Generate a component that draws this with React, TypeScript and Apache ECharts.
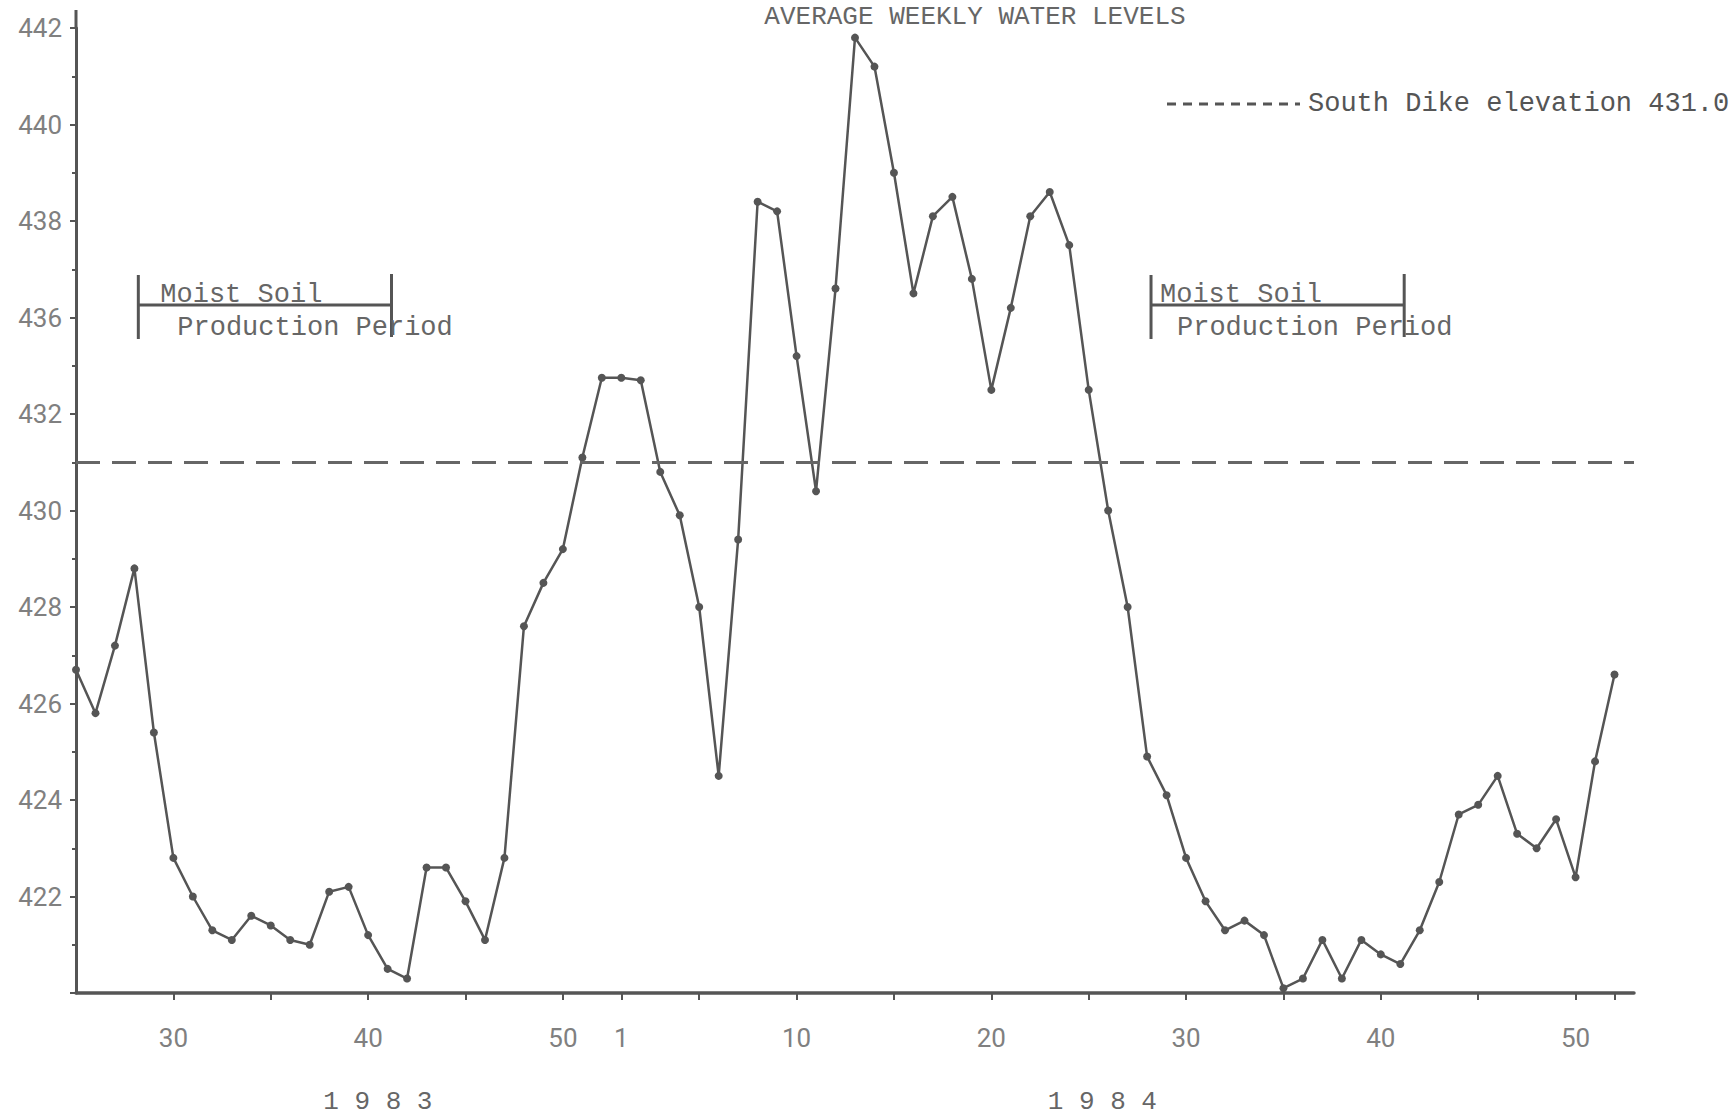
import { useEffect, useRef } from "react";
import * as echarts from "echarts";

// ---- data ----
const weeks1983 = [25, 26, 27, 28, 29, 30, 31, 32, 33, 34, 35, 36, 37, 38, 39, 40, 41, 42, 43, 44, 45, 46, 47, 48, 49, 50, 51, 52];
const weeks1984 = [1, 2, 3, 4, 5, 6, 7, 8, 9, 10, 11, 12, 13, 14, 15, 16, 17, 18, 19, 20, 21, 22, 23, 24, 25, 26, 27, 28, 29, 30, 31, 32, 33, 34, 35, 36, 37, 38, 39, 40, 41, 42, 43, 44, 45, 46, 47, 48, 49, 50, 51, 52];
const levels1983 = [426.7, 425.8, 427.2, 428.8, 425.4, 422.8, 422.0, 421.3, 421.1, 421.6, 421.4, 421.1, 421.0, 422.1, 422.2, 421.2, 420.5, 420.3, 422.6, 422.6, 421.9, 421.1, 422.8, 427.6, 428.5, 429.2, 431.1, 433.5];
const levels1984 = [433.5, 433.4, 430.8, 429.9, 428.0, 424.5, 429.4, 438.4, 438.2, 434.4, 430.4, 436.6, 441.8, 441.2, 439.0, 436.5, 438.1, 438.5, 436.8, 433.0, 436.2, 438.1, 438.6, 437.5, 433.0, 430.0, 428.0, 424.9, 424.1, 422.8, 421.9, 421.3, 421.5, 421.2, 420.1, 420.3, 421.1, 420.3, 421.1, 420.8, 420.6, 421.3, 422.3, 423.7, 423.9, 424.5, 423.3, 423.0, 423.6, 422.4, 424.8, 426.6];
// tick labels as printed on the original (evenly spaced ticks; "434" is skipped)
const yTickLabels = ["", "422", "424", "426", "428", "430", "432", "436", "438", "440", "442"];
const xTickWeeks1983 = [30, 35, 40, 45, 50];
const xTickWeeks1984 = [1, 5, 10, 15, 20, 25, 30, 35, 40, 45, 50, 52];
const xLabelWeeks1983 = [30, 40, 50];
const xLabelWeeks1984 = [1, 10, 20, 30, 40, 50];
const dikeElevation = 431.0;
const moistSoilPeriods = [
  { year: 1983, start: 28.2, end: 41.2 },
  { year: 1984, start: 28.2, end: 41.2 },
];
const yearLabels = [
  { year: 1983, week: 40.5, text: "1 9 8 3" },
  { year: 1984, week: 25.7, text: "1 9 8 4" },
];
const titleText = "AVERAGE WEEKLY WATER LEVELS";
const legendText = "South Dike elevation 431.0";

// ---- layout of the typed annotations (pixels) ----
const periodTextOffsets = [
  { moist: 22, production: 39 },
  { moist: 9, production: 26 },
];

// ---- derived ----
const categories = [
  ...weeks1983.map((w) => `1983-${w}`),
  ...weeks1984.map((w) => `1984-${w}`),
  "1985-1",
];
const tickSet = new Set([
  ...xTickWeeks1983.map((w) => `1983-${w}`),
  ...xTickWeeks1984.map((w) => `1984-${w}`),
]);
const labelSet = new Set([
  ...xLabelWeeks1983.map((w) => `1983-${w}`),
  ...xLabelWeeks1984.map((w) => `1984-${w}`),
]);
// the printed axis is evenly ticked but its labels jump from 432 to 436
const toAxis = (v: number) => (v <= 432 ? v : v <= 436 ? 432 + (v - 432) / 2 : v - 2);
const seriesData = [...levels1983, ...levels1984].map(toAxis);

const INK = "#555";
const LABEL = "#808080";
const MONO = "'Liberation Mono', 'DejaVu Sans Mono', monospace";
const SANS = "Roboto, 'Liberation Sans', sans-serif";

export default function App() {
  const ref = useRef<HTMLDivElement>(null);
  useEffect(() => {
    if (!ref.current) return;
    const chart = echarts.init(ref.current, undefined, { renderer: "svg" });
    chart.setOption({
      animation: false,
      backgroundColor: "#fff",
      grid: { left: 76, right: 99, top: 28, bottom: 123 },
      xAxis: {
        type: "category",
        data: categories,
        boundaryGap: false,
        axisLine: { lineStyle: { color: INK, width: 3.5 } },
        axisTick: {
          interval: (_i: number, v: string) => tickSet.has(v),
          length: 7,
          lineStyle: { color: INK, width: 2 },
        },
        axisLabel: {
          interval: (_i: number, v: string) => labelSet.has(v),
          formatter: (v: string) => v.split("-")[1],
          color: LABEL,
          fontSize: 26,
          fontFamily: SANS,
          margin: 32,
        },
        splitLine: { show: false },
      },
      yAxis: {
        type: "value",
        min: 420,
        max: 440,
        interval: 2,
        axisLine: { show: true, lineStyle: { color: INK, width: 3 } },
        axisTick: { show: true, length: 6, lineStyle: { color: INK, width: 2 } },
        minorTick: { show: true, splitNumber: 2, length: 4, lineStyle: { color: INK, width: 2 } },
        axisLabel: {
          formatter: (v: number) => yTickLabels[Math.round((v - 420) / 2)] ?? "",
          color: LABEL,
          fontSize: 26,
          fontFamily: SANS,
          margin: 14,
        },
        splitLine: { show: false },
      },
      series: [
        {
          type: "line",
          data: seriesData,
          symbol: "circle",
          symbolSize: 8,
          lineStyle: { color: INK, width: 2.5 },
          itemStyle: { color: INK },
          markLine: {
            silent: true,
            symbol: ["none", "none"],
            label: { show: false },
            lineStyle: { color: "#666", width: 3, type: [24, 12] },
            data: [{ yAxis: dikeElevation }],
          },
        },
      ],
    });

    const x0 = chart.convertToPixel({ xAxisIndex: 0 }, categories[0]) as number;
    const x1 = chart.convertToPixel({ xAxisIndex: 0 }, categories[1]) as number;
    const yTop = chart.convertToPixel({ yAxisIndex: 0 }, 440) as number;
    const step = x1 - x0;
    const px = (year: number, week: number) =>
      x0 + (year === 1983 ? week - weeks1983[0] : week + weeks1983.length - 1) * step;

    const graphic: any[] = [
      // the printed y axis runs a little above its top tick
      {
        type: "line",
        shape: { x1: x0, y1: yTop - 18, x2: x0, y2: yTop },
        style: { stroke: INK, lineWidth: 3 },
      },
      {
        type: "text",
        style: { text: titleText, x: 975, y: 4, align: "center", verticalAlign: "top", font: `26px ${MONO}`, fill: "#666" },
      },
      {
        type: "line",
        shape: { x1: 1167, y1: 104, x2: 1300, y2: 104 },
        style: { stroke: INK, lineWidth: 3, lineDash: [9, 7] },
      },
      {
        type: "text",
        style: { text: legendText, x: 1308, y: 104, align: "left", verticalAlign: "middle", font: `27px ${MONO}`, fill: INK },
      },
    ];
    moistSoilPeriods.forEach((p, i) => {
      const sx = px(p.year, p.start);
      const ex = px(p.year, p.end);
      const off = periodTextOffsets[i];
      graphic.push(
        { type: "line", shape: { x1: sx, y1: 275, x2: sx, y2: 339 }, style: { stroke: INK, lineWidth: 3 } },
        { type: "line", shape: { x1: sx, y1: 305, x2: ex, y2: 305 }, style: { stroke: INK, lineWidth: 3 } },
        { type: "line", shape: { x1: ex, y1: 274, x2: ex, y2: 337 }, style: { stroke: INK, lineWidth: 3 } },
        {
          type: "text",
          style: { text: "Moist Soil", x: sx + off.moist, y: 295, align: "left", verticalAlign: "middle", font: `27px ${MONO}`, fill: "#666" },
        },
        {
          type: "text",
          style: { text: "Production Period", x: sx + off.production, y: 328, align: "left", verticalAlign: "middle", font: `27px ${MONO}`, fill: "#666" },
        }
      );
    });
    yearLabels.forEach((y) => {
      graphic.push({
        type: "text",
        style: { text: y.text, x: px(y.year, y.week), y: 1102, align: "center", verticalAlign: "middle", font: `26px ${MONO}`, fill: "#666" },
      });
    });
    chart.setOption({ graphic });

    return () => chart.dispose();
  }, []);
  return (
    <div
      ref={ref}
      style={{ position: "absolute", left: 0, top: 0, width: 1733, height: 1116, background: "#fff" }}
    />
  );
}
